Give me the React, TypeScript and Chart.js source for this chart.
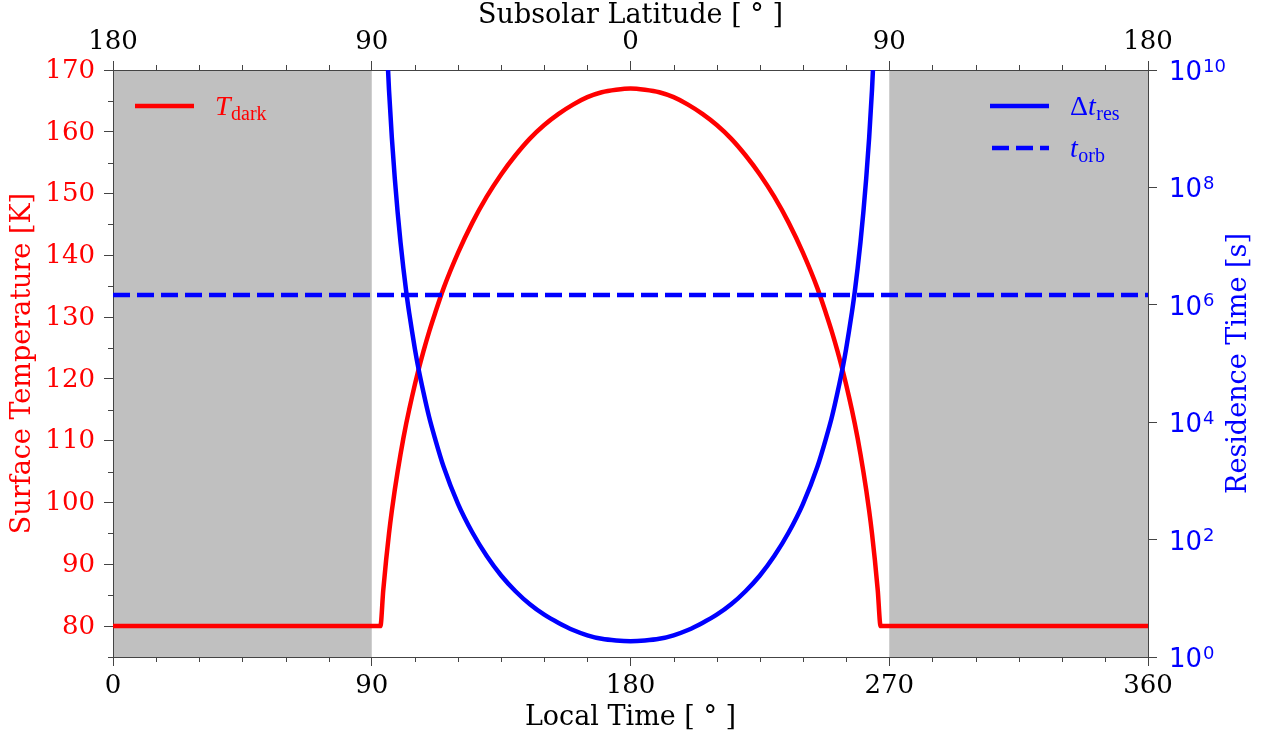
import React, { useEffect, useRef } from 'react';
import { Chart, registerables } from 'chart.js';

Chart.register(...registerables);

// Local time [deg] sample positions
const localTime = [
  0, 30, 60, 90, 92, 93, 94, 95, 96, 97, 98, 99, 100, 101, 102, 103, 104, 105, 106, 108, 110, 112,
  115, 120, 125, 130, 135, 140, 145, 150, 155, 160, 165, 170, 175, 180,
  185, 190, 195, 200, 205, 210, 215, 220, 225, 230, 235, 240, 245,
  248, 250, 252, 254, 255, 256, 257, 258, 259, 260, 261, 262, 263, 264, 265, 266, 267, 268, 270, 300, 330, 360,
];

// Surface temperature T_dark [K]
const surfaceTemp = [
  80, 80, 80, 80, 80, 80, 85.8, 90.7, 95.0, 98.7, 102.0, 105.0, 107.8, 110.4, 112.8, 115.0, 117.1, 119.1, 121.0, 124.5, 127.7, 130.6,
  134.7, 140.4, 145.3, 149.5, 153.1, 156.2, 158.9, 161.1, 162.9, 164.4, 165.6, 166.4, 166.8, 167.0,
  166.8, 166.4, 165.6, 164.4, 162.9, 161.1, 158.9, 156.2, 153.1, 149.5, 145.3, 140.4, 134.7,
  130.6, 127.7, 124.5, 121.0, 119.1, 117.1, 115.0, 112.8, 110.4, 107.8, 105.0, 102.0, 98.7, 95.0, 90.7, 85.8, 80, 80, 80, 80, 80, 80,
];

// Residence time Δt_res [s]
const residenceTime = [
  5.6e13, 5.6e13, 5.6e13, 5.6e13, 5.6e13, 5.6e13, 1.0e12, 4.9e10, 4.6e9, 6.9e8, 1.45e8, 3.8e7, 1.17e7, 4.2e6, 1.66e6, 7.4e5, 3.55e5, 1.78e5, 9.5e4, 3.2e4, 1.2e4, 5.3e3,
  1740, 407, 132, 52.5, 24.5, 13.2, 7.9, 5.25, 3.8, 2.88, 2.34, 2.04, 1.91, 1.86,
  1.91, 2.04, 2.34, 2.88, 3.8, 5.25, 7.9, 13.2, 24.5, 52.5, 132, 407, 1740,
  5.3e3, 1.2e4, 3.2e4, 9.5e4, 1.78e5, 3.55e5, 7.4e5, 1.66e6, 4.2e6, 1.17e7, 3.8e7, 1.45e8, 6.9e8, 4.6e9, 4.9e10, 1.0e12, 5.6e13, 5.6e13, 5.6e13, 5.6e13, 5.6e13, 5.6e13,
];

// Orbital period t_orb [s]
const orbitTimeX = [0, 360];
const orbitTimeY = [1.47e6, 1.47e6];

// Axis ticks
const timeTicks = [0, 90, 180, 270, 360];
const latitudeLabels = ['180', '90', '0', '90', '180'];
const timeMinorTicks = [15, 30, 45, 60, 75, 105, 120, 135, 150, 165, 195, 210, 225, 240, 255, 285, 300, 315, 330, 345];
const tempTicks = [80, 90, 100, 110, 120, 130, 140, 150, 160, 170];
const tempMinorTicks = [75, 85, 95, 105, 115, 125, 135, 145, 155, 165];
const residenceTicks = [1, 1e2, 1e4, 1e6, 1e8, 1e10];
const residenceExponents = ['0', '2', '4', '6', '8', '10'];

// Shaded (night) local-time spans
const nightSpans = [
  [0, 90],
  [270, 360],
];

const SERIF = '"DejaVu Serif", serif';
const SANS = '"DejaVu Sans", sans-serif';
const MATH = '"Liberation Serif", serif';
const RED = '#ff0000';
const BLUE = '#0000ff';
const AXIS = '#444444';

const shadePlugin = {
  id: 'shade',
  beforeDraw(chart: any) {
    const { ctx, chartArea, scales } = chart;
    ctx.save();
    ctx.fillStyle = '#c0c0c0';
    nightSpans.forEach(([a, b]) => {
      const x0 = scales.x.getPixelForValue(a);
      const x1 = scales.x.getPixelForValue(b);
      ctx.fillRect(x0, chartArea.top, x1 - x0, chartArea.bottom - chartArea.top);
    });
    ctx.restore();
  },
};

const decorPlugin = {
  id: 'decor',
  afterDraw(chart: any) {
    const { ctx, chartArea, scales } = chart;
    const { left, right, top, bottom } = chartArea;
    ctx.save();
    // minor ticks
    ctx.strokeStyle = AXIS;
    ctx.lineWidth = 1;
    ctx.beginPath();
    timeMinorTicks.forEach((v) => {
      const px = Math.round(scales.x.getPixelForValue(v)) + 0.5;
      ctx.moveTo(px, bottom);
      ctx.lineTo(px, bottom + 5);
      ctx.moveTo(px, top);
      ctx.lineTo(px, top - 5);
    });
    tempMinorTicks.forEach((v) => {
      const py = Math.round(scales.yT.getPixelForValue(v)) + 0.5;
      ctx.moveTo(left, py);
      ctx.lineTo(left - 5, py);
    });
    ctx.stroke();

    // right log-axis labels 10^n
    ctx.fillStyle = BLUE;
    ctx.textAlign = 'left';
    ctx.textBaseline = 'alphabetic';
    residenceTicks.forEach((v, i) => {
      const py = scales.yR.getPixelForValue(v);
      ctx.font = `26px ${SANS}`;
      const bx = right + 21;
      ctx.fillText('10', bx, py + 10);
      const w = ctx.measureText('10').width;
      ctx.font = `18px ${SANS}`;
      ctx.fillText(residenceExponents[i], bx + w + 1, py + 1.5);
    });

    // right axis title (reads bottom to top)
    ctx.save();
    ctx.translate(1239, (top + bottom) / 2);
    ctx.rotate(-Math.PI / 2);
    ctx.font = `27px ${SERIF}`;
    ctx.textAlign = 'center';
    ctx.textBaseline = 'middle';
    ctx.fillStyle = BLUE;
    ctx.fillText('Residence Time [s]', 0, 0);
    ctx.restore();

    // legends
    ctx.lineCap = 'butt';
    // left legend: T_dark
    ctx.strokeStyle = RED;
    ctx.lineWidth = 4.5;
    ctx.beginPath();
    ctx.moveTo(left + 22, top + 36);
    ctx.lineTo(left + 81, top + 36);
    ctx.stroke();
    ctx.fillStyle = RED;
    ctx.textAlign = 'left';
    ctx.textBaseline = 'alphabetic';
    ctx.font = `italic 28px ${MATH}`;
    ctx.fillText('T', left + 102, top + 45);
    let w = ctx.measureText('T').width;
    ctx.font = `20px ${MATH}`;
    ctx.fillText('dark', left + 102 + w + 0.5, top + 49.5);

    // right legend: Δt_res
    const lx0 = right - 158;
    const lx1 = right - 99;
    const tx = right - 78;
    ctx.strokeStyle = BLUE;
    ctx.beginPath();
    ctx.moveTo(lx0, top + 36);
    ctx.lineTo(lx1, top + 36);
    ctx.stroke();
    ctx.fillStyle = BLUE;
    ctx.font = `28px ${MATH}`;
    ctx.fillText('\u0394', tx, top + 45);
    let wd = ctx.measureText('\u0394').width;
    ctx.font = `italic 28px ${MATH}`;
    ctx.fillText('t', tx + wd, top + 45);
    w = ctx.measureText('t').width;
    ctx.font = `20px ${MATH}`;
    ctx.fillText('res', tx + wd + w + 0.5, top + 49.5);

    // t_orb
    ctx.setLineDash([17, 7]);
    ctx.beginPath();
    ctx.moveTo(lx0 + 2, top + 78);
    ctx.lineTo(lx1, top + 78);
    ctx.stroke();
    ctx.setLineDash([]);
    ctx.font = `italic 28px ${MATH}`;
    ctx.fillText('t', tx, top + 87);
    w = ctx.measureText('t').width;
    ctx.font = `20px ${MATH}`;
    ctx.fillText('orb', tx + w + 0.5, top + 91.5);

    ctx.restore();
  },
};

const gridCommon = {
  display: true,
  drawOnChartArea: false,
  drawTicks: true,
  tickLength: 9,
  tickColor: AXIS,
  tickWidth: 1,
};
const borderCommon = { display: true, color: AXIS, width: 1 };

export default function App() {
  const ref = useRef<HTMLCanvasElement>(null);

  useEffect(() => {
    const canvas = ref.current;
    if (!canvas) return;
    const tempData = localTime.map((x, i) => ({ x, y: surfaceTemp[i] }));
    const resData = localTime.map((x, i) => ({ x, y: residenceTime[i] }));
    const orbData = orbitTimeX.map((x, i) => ({ x, y: orbitTimeY[i] }));

    const chart = new Chart(canvas, {
      type: 'line',
      data: {
        datasets: [
          {
            label: 't_orb',
            data: orbData,
            xAxisID: 'x',
            yAxisID: 'yR',
            borderColor: BLUE,
            borderWidth: 4.5,
            borderDash: [17, 7],
            pointRadius: 0,
            fill: false,
            clip: 0,
            order: 0,
          },
          {
            label: 'Δt_res',
            data: resData,
            xAxisID: 'x',
            yAxisID: 'yR',
            borderColor: BLUE,
            borderWidth: 4.5,
            pointRadius: 0,
            cubicInterpolationMode: 'monotone',
            fill: false,
            clip: 0,
            order: 1,
          },
          {
            label: 'T_dark',
            data: tempData,
            xAxisID: 'x',
            yAxisID: 'yT',
            borderColor: RED,
            borderWidth: 4.5,
            pointRadius: 0,
            cubicInterpolationMode: 'monotone',
            fill: false,
            clip: 0,
            order: 2,
          },
        ],
      },
      options: {
        animation: false,
        responsive: false,
        devicePixelRatio: 1,
        layout: { padding: 0 },
        plugins: { legend: { display: false }, tooltip: { enabled: false } },
        events: [],
        scales: {
          x: {
            type: 'linear',
            axis: 'x',
            position: 'bottom',
            min: 0,
            max: 360,
            bounds: 'data',
            afterBuildTicks: (s: any) => {
              s.ticks = timeTicks.map((value) => ({ value }));
            },
            ticks: {
              color: '#000',
              font: { family: SERIF, size: 26 },
              padding: 5,
              maxRotation: 0,
              autoSkip: false,
            },
            grid: gridCommon,
            border: borderCommon,
            title: {
              display: true,
              text: 'Local Time [ ° ]',
              color: '#000',
              font: { family: SERIF, size: 27 },
              padding: { top: 0, bottom: 4 },
            },
            afterFit: (s: any) => {
              s.height = 81;
            },
          },
          x2: {
            type: 'linear',
            axis: 'x',
            position: 'top',
            min: 0,
            max: 360,
            bounds: 'data',
            afterBuildTicks: (s: any) => {
              s.ticks = timeTicks.map((value) => ({ value }));
            },
            ticks: {
              color: '#000',
              font: { family: SERIF, size: 26 },
              padding: 3,
              maxRotation: 0,
              autoSkip: false,
              callback: (v: any) => latitudeLabels[timeTicks.indexOf(Number(v))],
            },
            grid: gridCommon,
            border: borderCommon,
            title: {
              display: true,
              text: 'Subsolar Latitude [ ° ]',
              color: '#000',
              font: { family: SERIF, size: 27 },
              padding: { top: 0, bottom: 0 },
            },
            afterFit: (s: any) => {
              s.height = 70;
            },
          },
          yT: {
            type: 'linear',
            axis: 'y',
            position: 'left',
            min: 75,
            max: 170,
            bounds: 'data',
            afterBuildTicks: (s: any) => {
              s.ticks = tempTicks.map((value) => ({ value }));
            },
            ticks: {
              color: RED,
              font: { family: SERIF, size: 26 },
              padding: 9,
              labelOffset: 1,
              autoSkip: false,
            },
            grid: gridCommon,
            border: borderCommon,
            title: {
              display: true,
              text: 'Surface Temperature [K]',
              color: RED,
              font: { family: SERIF, size: 27 },
              padding: { top: 7, bottom: 0 },
            },
            afterFit: (s: any) => {
              s.width = 113;
            },
          },
          yR: {
            type: 'logarithmic',
            axis: 'y',
            position: 'right',
            min: 1,
            max: 1e10,
            afterBuildTicks: (s: any) => {
              s.ticks = residenceTicks.map((value) => ({ value }));
            },
            ticks: { display: false },
            grid: gridCommon,
            border: borderCommon,
            afterFit: (s: any) => {
              s.width = 121;
            },
          },
        },
      },
      plugins: [shadePlugin, decorPlugin],
    } as any);

    return () => chart.destroy();
  }, []);

  return (
    <div style={{ position: 'fixed', left: 0, top: 0, width: 1269, height: 738, background: '#fff' }}>
      <canvas ref={ref} width={1269} height={738} style={{ display: 'block', width: 1269, height: 738 }} />
    </div>
  );
}
